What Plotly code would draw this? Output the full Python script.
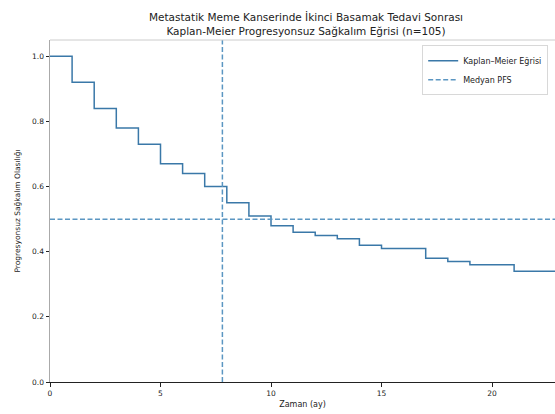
import plotly.graph_objects as go

# Data
times = [0, 1, 2, 3, 4, 5, 6, 7, 8, 9, 10, 11, 12, 13, 14, 15, 17, 18, 19, 21, 23]
survival = [1.0, 0.92, 0.84, 0.78, 0.73, 0.67, 0.64, 0.60, 0.55, 0.51, 0.48,
            0.46, 0.45, 0.44, 0.42, 0.41, 0.38, 0.37, 0.36, 0.34, 0.34]
median_time = 7.8
median_level = 0.5
x_ticks = [0, 5, 10, 15, 20]
y_ticks = [0.0, 0.2, 0.4, 0.6, 0.8, 1.0]

title_text = ("Metastatik Meme Kanserinde İkinci Basamak Tedavi Sonrası<br>"
              "Kaplan-Meier Progresyonsuz Sağkalım Eğrisi (n=105)")

km_color = "#3a78a8"
dash_color = "#5b96c2"
font_family = "DejaVu Sans"
dash_style = "5px,2.5px"

fig = go.Figure()
fig.add_trace(go.Scatter(
    x=times, y=survival, mode="lines", line_shape="hv",
    line=dict(color=km_color, width=1.5),
    name="Kaplan–Meier Eğrisi"))
fig.add_trace(go.Scatter(
    x=[median_time, median_time], y=[0, 1.05], mode="lines",
    line=dict(color=dash_color, width=1.5, dash=dash_style),
    name="Medyan PFS"))
fig.add_trace(go.Scatter(
    x=[0, 23], y=[median_level, median_level], mode="lines",
    line=dict(color=dash_color, width=1.5, dash=dash_style),
    showlegend=False))

fig.update_layout(
    width=555, height=414,
    margin=dict(l=50, r=0, t=40, b=32),
    paper_bgcolor="white", plot_bgcolor="white",
    font=dict(family=font_family, size=8, color="#222"),
    title=dict(text=title_text, x=306/555, xanchor="center",
               y=1 - 21/414, yref="container", yanchor="top",
               font=dict(size=10.5, color="#222")),
    legend=dict(x=0.737, y=0.985, xanchor="left", yanchor="top",
                bgcolor="white", bordercolor="#d8d8d8", borderwidth=1,
                font=dict(size=8), tracegroupgap=0),
    showlegend=True,
)

fig.update_xaxes(range=[0, 22.85], tickvals=x_ticks, ticks="outside",
                 ticklen=3.5, tickcolor="#222", showgrid=False, zeroline=False,
                 showline=True, linecolor="#222", linewidth=1.2,
                 title=dict(text="Zaman (ay)", standoff=4, font=dict(size=8)),
                 tickfont=dict(size=7.5))
fig.update_yaxes(range=[0, 1.05], tickvals=y_ticks, tickformat=".1f",
                 ticks="outside", ticklen=3.5, tickcolor="#222",
                 showgrid=False, zeroline=False,
                 showline=True, linecolor="#aaaaaa", linewidth=1,
                 title=dict(text="Progresyonsuz Sağkalım Olasılığı", standoff=10,
                            font=dict(size=7.5)),
                 tickfont=dict(size=7.5))
fig.add_shape(type="line", xref="paper", yref="paper", x0=0, x1=1, y0=1, y1=1,
              line=dict(color="#cccccc", width=1))

fig.write_html("out.html")
